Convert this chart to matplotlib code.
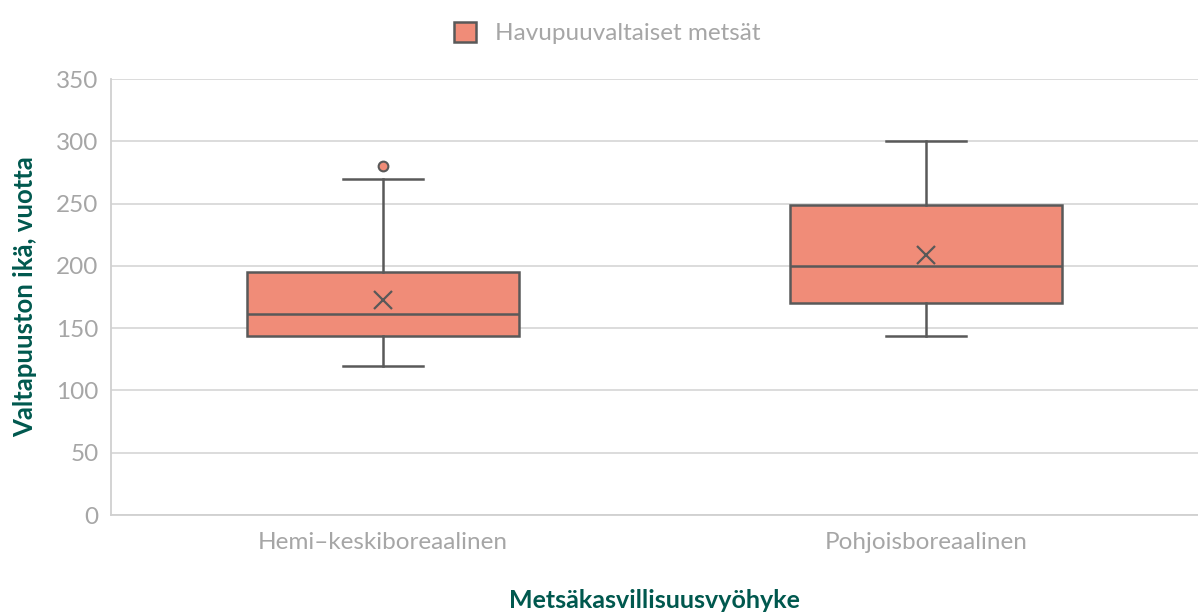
import matplotlib.pyplot as plt

# data
categories = ["Hemi\u2013keskiboreaalinen", "Pohjoisboreaalinen"]
q1 = [143.5, 170]
median = [161.5, 200]
q3 = [195, 249]
whislo = [120, 143.5]
whishi = [270, 300]
mean = [172.5, 209]
fliers = [[280], []]

series_name = "Havupuuvaltaiset metsät"
fill = "#F08C78"
edge = "#595959"
grey_text = "#A6A6A6"
title_col = "#00584E"

plt.rcParams['font.family'] = ['Lato', 'DejaVu Sans']

fig = plt.figure(figsize=(11.98, 6.14), dpi=100)
ax = fig.add_axes([111 / 1198, 99 / 614, 1087 / 1198, 436 / 614])

stats = []
for i in range(len(categories)):
    stats.append(dict(q1=q1[i], med=median[i], q3=q3[i], whislo=whislo[i],
                      whishi=whishi[i], mean=mean[i], fliers=fliers[i]))

pos = list(range(len(categories)))
ax.bxp(stats, positions=pos, widths=0.5, patch_artist=True, showmeans=True,
       boxprops=dict(facecolor=fill, edgecolor=edge, linewidth=1.8),
       medianprops=dict(color=edge, linewidth=1.8),
       whiskerprops=dict(color=edge, linewidth=1.8),
       capprops=dict(color=edge, linewidth=1.8),
       capwidths=0.147,
       meanprops=dict(marker='x', markeredgecolor=edge, markersize=13,
                      markeredgewidth=1.6),
       flierprops=dict(marker='o', markerfacecolor=fill, markeredgecolor=edge,
                       markersize=7, markeredgewidth=1.5))

ax.set_xlim(-0.5, len(categories) - 0.5)
ax.set_ylim(0, 350)
ax.set_yticks(range(0, 351, 50))
ax.set_xticks(pos)
ax.set_xticklabels(categories)
ax.yaxis.grid(True, color="#D9D9D9", linewidth=1.3)
ax.set_axisbelow(True)
for s in ["top", "right"]:
    ax.spines[s].set_visible(False)
for s in ["left", "bottom"]:
    ax.spines[s].set_color("#D0D0D0")
    ax.spines[s].set_linewidth(1.3)
ax.tick_params(axis='both', colors=grey_text, labelsize=17.5, length=0, pad=12)
ax.tick_params(axis='y', pad=9)

ax.set_ylabel("Valtapuuston ikä, vuotta", color=title_col, fontsize=18.5,
              fontweight='bold', labelpad=14)
ax.set_xlabel("Metsäkasvillisuusvyöhyke", color=title_col, fontsize=18,
              fontweight='bold', labelpad=26)

handle = plt.Rectangle((0, 0), 1, 1, facecolor=fill, edgecolor=edge, linewidth=1.8)
leg = fig.legend([handle], [series_name], loc='upper center',
                 bbox_to_anchor=(0.507, 1.0), frameon=False, fontsize=17.5,
                 handlelength=0.9, handleheight=0.9)
for t in leg.get_texts():
    t.set_color(grey_text)

fig.savefig("out.png", dpi=100)
